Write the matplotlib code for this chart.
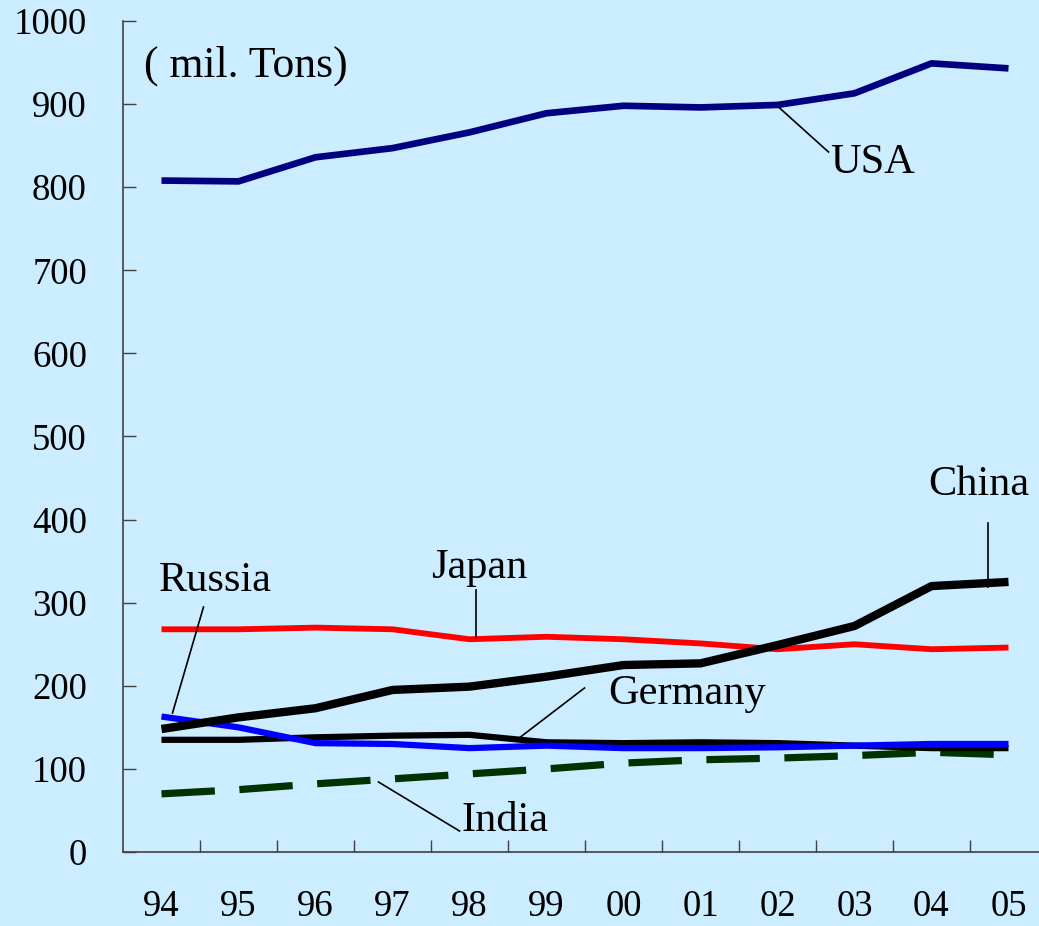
import matplotlib
matplotlib.use("Agg")
import matplotlib.pyplot as plt

years = ["94", "95", "96", "97", "98", "99", "00", "01", "02", "03", "04", "05"]
usa = [808, 807, 836, 847, 866, 889, 898, 896, 899, 913, 949, 943]
japan = [268, 268, 270, 268, 256, 259, 256, 251, 244, 250, 244, 246]
china = [148, 162, 173, 195, 199, 211, 225, 227, 249, 272, 320, 325]
germany = [135, 135, 138, 140, 141, 132, 131, 132, 131, 128, 125, 125]
russia = [163, 150, 131, 130, 125, 128, 125, 125, 126, 128, 130, 130]
india = [70, 75, 82, 88, 94, 100, 107, 111, 113, 116, 120, 117]
yticks = [0, 100, 200, 300, 400, 500, 600, 700, 800, 900, 1000]

plt.rcParams['font.family'] = ['Liberation Serif', 'DejaVu Serif']
bg = '#CCECFF'
W, H = 1039, 926
fig = plt.figure(figsize=(W / 100, H / 100), dpi=100, facecolor=bg)
ax = fig.add_axes([123 / W, (H - 852) / H, 924 / W, 831 / H], facecolor=bg)

x = list(range(len(years)))
ax.plot(x, india, color='#003300', lw=5.2, dashes=(7.4, 3.4), solid_capstyle='butt', dash_capstyle='butt', zorder=2)
ax.plot(x, germany, color='black', lw=4.5, solid_capstyle='butt', zorder=3)
ax.plot(x, russia, color='#0000FF', lw=4.5, solid_capstyle='butt', zorder=4)
ax.plot(x, japan, color='#FF0000', lw=4.2, solid_capstyle='butt', zorder=5)
ax.plot(x, china, color='black', lw=6.0, solid_capstyle='butt', zorder=6)
ax.plot(x, usa, color='#000080', lw=4.8, solid_capstyle='butt', zorder=7)

ax.set_xlim(-0.5, len(years) - 0.5)
ax.set_ylim(0, 1000)
ax.set_yticks(yticks)
ax.set_yticklabels([str(v) for v in yticks], fontsize=26.5)
ax.set_xticks(x)
ax.set_xticklabels(years, fontsize=26.5)
ax.set_xticks([i + 0.5 for i in range(len(years))], minor=True)
ax.tick_params(axis='x', which='major', length=0, pad=27)
ax.tick_params(axis='x', which='minor', direction='in', length=9, width=1, color='#404040')
ax.tick_params(axis='y', direction='in', length=9, width=1, color='#404040', pad=26)
for s in ['top', 'right']:
    ax.spines[s].set_visible(False)
for s in ['left', 'bottom']:
    ax.spines[s].set_color('#404040')
    ax.spines[s].set_linewidth(1.2)

def px(xp):
    return (xp - 162) / 77.0

def py(yp):
    return (852 - yp) / 0.831

lk = dict(color='black', lw=1.2, zorder=8)
# leader lines
ax.plot([px(779), px(829)], [py(107), py(152)], **lk)
ax.plot([px(988), px(988)], [py(523), py(587)], **lk)
ax.plot([px(476), px(476)], [py(590), py(637)], **lk)
ax.plot([px(204), px(173)], [py(607), py(713)], **lk)
ax.plot([px(585), px(521)], [py(688), py(737)], **lk)
ax.plot([px(379), px(460)], [py(782), py(831)], **lk)

tk = dict(fontsize=30.5, color='black', zorder=9)
ax.text(px(145), py(66), "( mil. Tons)", ha='left', va='center', fontsize=31.5, zorder=9)
ax.text(px(831), py(163), "USA", ha='left', va='center', **tk)
ax.text(px(979), py(485), "China", ha='center', va='center', **tk)
ax.text(px(480), py(568), "Japan", ha='center', va='center', **tk)
ax.text(px(216), py(581), "Russia", ha='center', va='center', **tk)
ax.text(px(609), py(694), "Germany", ha='left', va='center', **tk)
ax.text(px(462), py(821), "India", ha='left', va='center', **tk)

fig.savefig("out.png", dpi=100, facecolor=bg)
